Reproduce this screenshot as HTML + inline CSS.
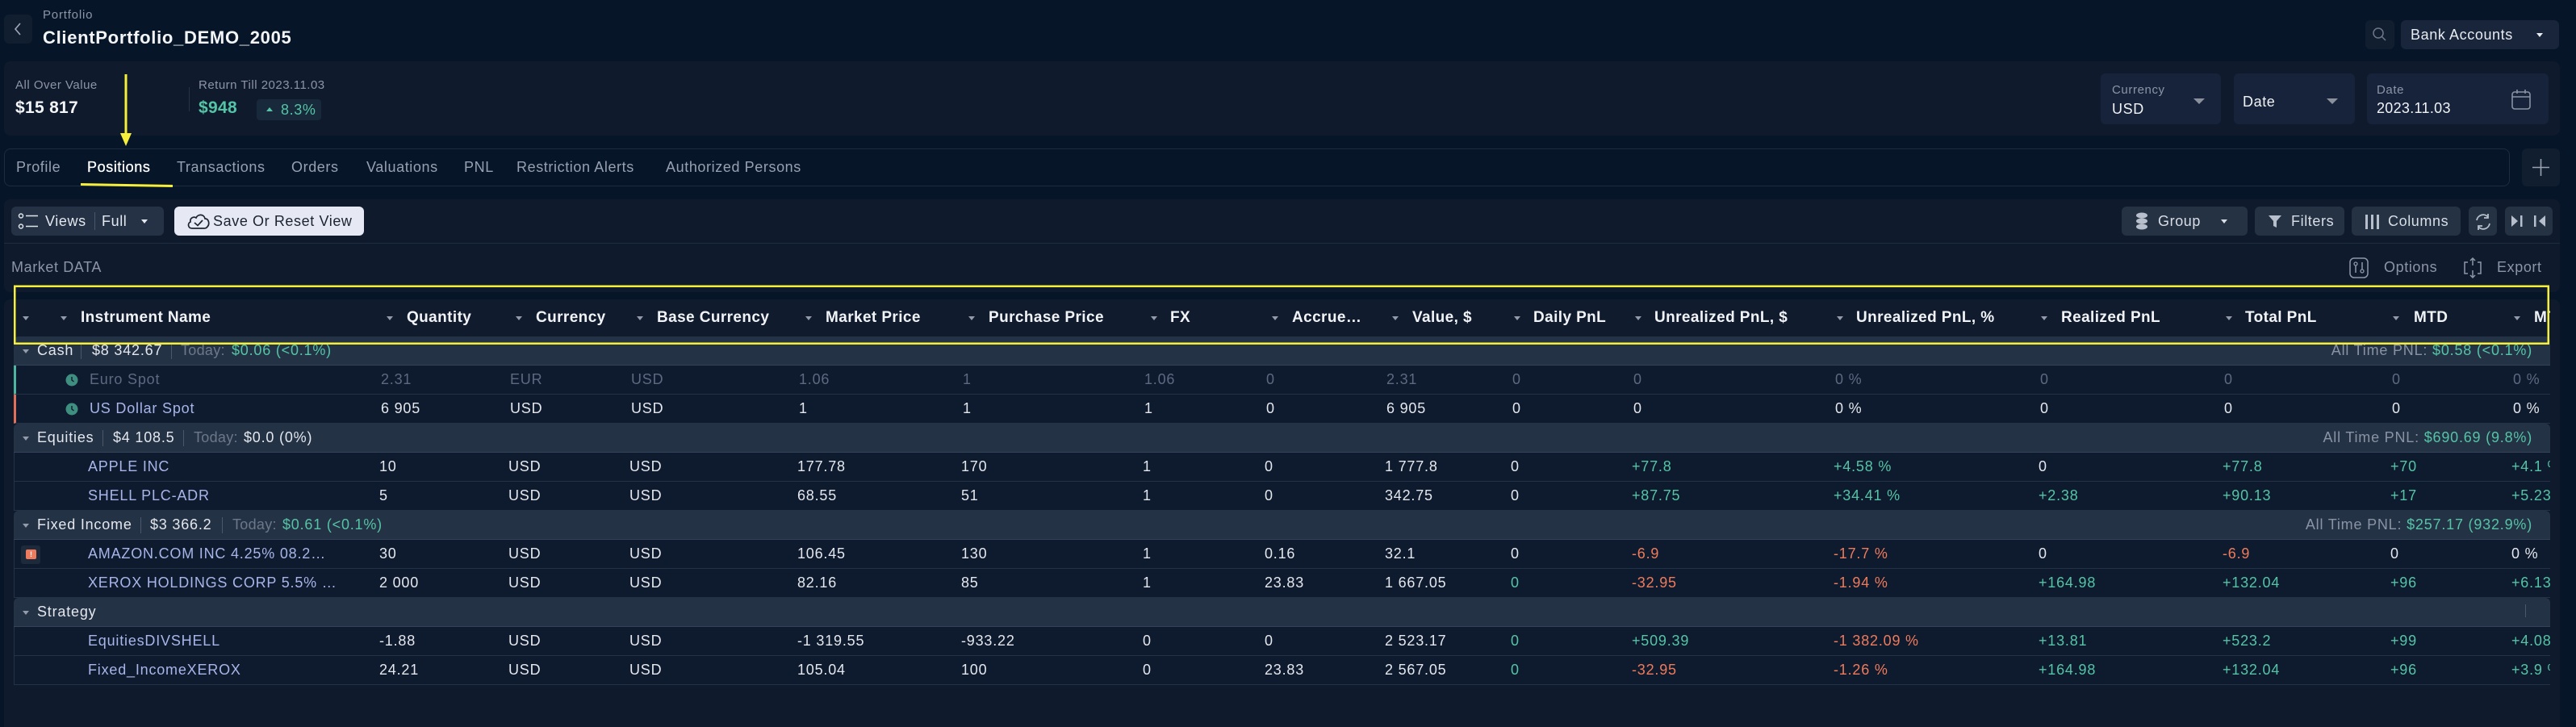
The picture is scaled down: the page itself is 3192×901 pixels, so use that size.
<!DOCTYPE html>
<html><head><meta charset="utf-8">
<style>
*{box-sizing:border-box}
body{margin:0;width:3192px;height:892px;background:#061528;position:relative;overflow:hidden;font-family:"Liberation Sans",sans-serif;letter-spacing:.6px;color:#e4e7ed}
.a{position:absolute;white-space:nowrap}
.p{position:absolute;background:#0f1b2d;border-radius:8px}
.btn{position:absolute;border-radius:6px;background:#243244}
.g{color:#8c95a7}
.gr{color:#55c4a6}
.rd{color:#ef7b5c}
.tri{position:absolute;width:0;height:0;border-left:4.5px solid transparent;border-right:4.5px solid transparent;border-top:5px solid #939bab}
.r{position:absolute;left:17px;width:3143px;height:36px;overflow:hidden}
.d{background:#0e1a2d;border-bottom:1px solid #233246;border-left:1px solid #233246}
.grp{background:#243245;border-bottom:1px solid #34435a;border-radius:6px 6px 0 0}
.in{position:absolute;left:-17px;top:0;width:3160px;height:36px}
.in span{position:absolute;top:0;line-height:35px;font-size:18px;letter-spacing:.8px;white-space:nowrap}
.nm{color:#a9b5e8}
.dim{color:#5d6981!important}
.sep{position:absolute;top:8px;width:1px;height:20px;background:#4b586c}
.hd{position:absolute;left:17px;top:371px;width:3143px;height:46px;overflow:hidden;background:#101c2e}
.hd span{position:absolute;top:0;line-height:46px;font-size:19px;font-weight:bold;letter-spacing:.4px;color:#f1f3f6;white-space:nowrap}
.hd .tri{top:21px}
.tab{position:absolute;top:195px;line-height:24px;font-size:18px;color:#97a0b2;white-space:nowrap}
.td{color:#6d778a;letter-spacing:.3px!important}
</style></head><body>

<!-- top header -->
<div class="btn" style="left:5px;top:18px;width:35px;height:36px;background:#111e30"></div>
<svg class="a" style="left:5px;top:18px" width="35" height="36"><polyline points="20,11 14,18 20,25" fill="none" stroke="#a0a8b8" stroke-width="1.6"/></svg>
<div class="a g" style="left:53px;top:10px;font-size:15px;line-height:18px;letter-spacing:.8px">Portfolio</div>
<div class="a" style="left:53px;top:34px;font-size:22px;line-height:26px;font-weight:bold;letter-spacing:.7px;color:#f3f5f8">ClientPortfolio_DEMO_2005</div>

<div class="btn" style="left:2931px;top:25px;width:36px;height:36px;background:#111e30"></div>
<svg class="a" style="left:2931px;top:25px" width="36" height="36"><circle cx="16" cy="16" r="6" fill="none" stroke="#6e7788" stroke-width="1.5"/><line x1="20.5" y1="20.5" x2="25" y2="25" stroke="#6e7788" stroke-width="1.5"/></svg>
<div class="btn" style="left:2975px;top:25px;width:196px;height:36px;background:#18253a"></div>
<div class="a" style="left:2987px;top:31px;font-size:18px;line-height:24px;color:#e8ebf0">Bank Accounts</div>
<div class="tri" style="left:3143px;top:41px;border-top-color:#e8ebf0"></div>

<!-- summary panel -->
<div class="p" style="left:5px;top:76px;width:3167px;height:92px"></div>
<div class="a g" style="left:19px;top:97px;font-size:15px;line-height:18px;letter-spacing:.5px">All Over Value</div>
<div class="a" style="left:19px;top:121px;font-size:21px;line-height:26px;font-weight:bold;letter-spacing:.3px;color:#f3f5f8">$15 817</div>
<div class="a" style="left:234px;top:108px;width:1px;height:30px;background:#243347"></div>
<div class="a g" style="left:246px;top:97px;font-size:15px;line-height:18px;letter-spacing:.5px">Return Till 2023.11.03</div>
<div class="a gr" style="left:246px;top:121px;font-size:21px;line-height:26px;font-weight:bold;letter-spacing:.3px">$948</div>
<div class="a" style="left:318px;top:123px;width:80px;height:26px;background:#17293a;border-radius:4px"></div>
<div class="a" style="left:330px;top:133px;width:0;height:0;border-left:4px solid transparent;border-right:4px solid transparent;border-bottom:5px solid #55c4a6"></div>
<div class="a gr" style="left:348px;top:124px;font-size:18px;line-height:24px">8.3%</div>

<div class="btn" style="left:2603px;top:91px;width:149px;height:63px;background:#16233a"></div>
<div class="a g" style="left:2617px;top:103px;font-size:15px;line-height:18px">Currency</div>
<div class="a" style="left:2617px;top:123px;font-size:18px;line-height:24px;color:#f0f2f5">USD</div>
<div class="a" style="left:2718px;top:122px;width:0;height:0;border-left:7px solid transparent;border-right:7px solid transparent;border-top:7px solid #8a919c"></div>
<div class="btn" style="left:2768px;top:91px;width:150px;height:63px;background:#16233a"></div>
<div class="a" style="left:2779px;top:114px;font-size:18px;line-height:24px;color:#f0f2f5">Date</div>
<div class="a" style="left:2883px;top:122px;width:0;height:0;border-left:7px solid transparent;border-right:7px solid transparent;border-top:7px solid #8a919c"></div>
<div class="btn" style="left:2933px;top:91px;width:225px;height:63px;background:#16233a"></div>
<div class="a g" style="left:2945px;top:103px;font-size:15px;line-height:18px">Date</div>
<div class="a" style="left:2945px;top:122px;font-size:18px;line-height:24px;color:#f0f2f5;letter-spacing:.3px">2023.11.03</div>
<svg class="a" style="left:3110px;top:109px" width="30" height="30"><rect x="3" y="5" width="22" height="21" rx="3" fill="none" stroke="#8a93a4" stroke-width="1.6"/><line x1="3" y1="11" x2="25" y2="11" stroke="#8a93a4" stroke-width="1.6"/><line x1="9" y1="2" x2="9" y2="7" stroke="#8a93a4" stroke-width="1.6"/><line x1="19" y1="2" x2="19" y2="7" stroke="#8a93a4" stroke-width="1.6"/></svg>

<!-- tabs -->
<div class="a" style="left:5px;top:184px;width:3105px;height:47px;border:1px solid #1d2c40;border-radius:8px"></div>
<div class="tab" style="left:20px">Profile</div>
<div class="tab" style="left:108px;color:#ffffff;-webkit-text-stroke:.3px #fff">Positions</div>
<div class="tab" style="left:219px">Transactions</div>
<div class="tab" style="left:361px">Orders</div>
<div class="tab" style="left:454px">Valuations</div>
<div class="tab" style="left:575px">PNL</div>
<div class="tab" style="left:640px">Restriction Alerts</div>
<div class="tab" style="left:825px">Authorized Persons</div>
<div class="btn" style="left:3125px;top:184px;width:47px;height:47px;background:#111e30"></div>
<svg class="a" style="left:3125px;top:184px" width="47" height="47"><line x1="13" y1="23.5" x2="34" y2="23.5" stroke="#9aa2b1" stroke-width="1.6"/><line x1="23.5" y1="13" x2="23.5" y2="34" stroke="#9aa2b1" stroke-width="1.6"/></svg>

<!-- toolbar panel -->
<div class="p" style="left:5px;top:247px;width:3167px;height:115px"></div>
<div class="a" style="left:5px;top:301px;width:3167px;height:1px;background:#1e2c3f"></div>
<div class="btn" style="left:14px;top:256px;width:189px;height:36px;background:#253245"></div>
<svg class="a" style="left:20px;top:262px" width="32" height="26"><circle cx="6" cy="5.5" r="2.5" fill="none" stroke="#dfe3ea" stroke-width="1.5"/><circle cx="6" cy="18.5" r="2.5" fill="none" stroke="#dfe3ea" stroke-width="1.5"/><line x1="12" y1="5.5" x2="27" y2="5.5" stroke="#dfe3ea" stroke-width="1.5"/><line x1="12" y1="18.5" x2="27" y2="18.5" stroke="#dfe3ea" stroke-width="1.5"/></svg>
<div class="a" style="left:56px;top:262px;font-size:18px;line-height:24px;color:#e3e7ee">Views</div>
<div class="a" style="left:117px;top:263px;width:1px;height:22px;background:#4a566a"></div>
<div class="a" style="left:126px;top:262px;font-size:18px;line-height:24px;color:#e3e7ee">Full</div>
<div class="tri" style="left:175px;top:272px;border-top-color:#e3e7ee"></div>
<div class="btn" style="left:216px;top:256px;width:235px;height:36px;background:#e6e9f4"></div>
<svg class="a" style="left:230px;top:260px" width="32" height="28"><path d="M8 23 C3 23 2 17 6 15 C5 10 10 8 13 10 C15 5 23 5 24 11 C29 11 30 18 27 21 C26 22.5 25 23 23 23 Z" fill="none" stroke="#1b2333" stroke-width="1.7"/><polyline points="11,16 15,19.5 21,13" fill="none" stroke="#1b2333" stroke-width="1.7"/></svg>
<div class="a" style="left:264px;top:262px;font-size:18px;line-height:24px;color:#1b2333">Save Or Reset View</div>

<div class="btn" style="left:2629px;top:256px;width:156px;height:36px"></div>
<svg class="a" style="left:2644px;top:262px" width="22" height="26"><ellipse cx="10" cy="5" rx="7" ry="3.5" fill="#b8bfcc"/><ellipse cx="10" cy="12" rx="7" ry="3.5" fill="#b8bfcc"/><ellipse cx="10" cy="19" rx="7" ry="3.5" fill="#b8bfcc"/></svg>
<div class="a" style="left:2674px;top:262px;font-size:18px;line-height:24px;color:#d9dde5">Group</div>
<div class="tri" style="left:2752px;top:272px;border-top-color:#d9dde5"></div>
<div class="btn" style="left:2794px;top:256px;width:111px;height:36px"></div>
<svg class="a" style="left:2810px;top:265px" width="20" height="20"><polygon points="1,2 17,2 11,9 11,17 7,15 7,9" fill="#b8bfcc"/></svg>
<div class="a" style="left:2839px;top:262px;font-size:18px;line-height:24px;color:#d9dde5">Filters</div>
<div class="btn" style="left:2914px;top:256px;width:135px;height:36px"></div>
<svg class="a" style="left:2929px;top:264px" width="22" height="22"><rect x="2" y="2" width="3" height="18" fill="#b8bfcc"/><rect x="9" y="2" width="3" height="18" fill="#b8bfcc"/><rect x="16" y="2" width="3" height="18" fill="#b8bfcc"/></svg>
<div class="a" style="left:2959px;top:262px;font-size:18px;line-height:24px;color:#d9dde5">Columns</div>
<div class="btn" style="left:3059px;top:256px;width:35px;height:36px"></div>
<svg class="a" style="left:3064px;top:262px" width="26" height="26"><path d="M5 11 A8 8 0 0 1 19 7" fill="none" stroke="#b8bfcc" stroke-width="1.8"/><polyline points="19,3 19,8 14,8" fill="none" stroke="#b8bfcc" stroke-width="1.8"/><path d="M21 15 A8 8 0 0 1 7 19" fill="none" stroke="#b8bfcc" stroke-width="1.8"/><polyline points="7,23 7,18 12,18" fill="none" stroke="#b8bfcc" stroke-width="1.8"/></svg>
<div class="btn" style="left:3104px;top:256px;width:59px;height:36px"></div>
<svg class="a" style="left:3104px;top:256px" width="59" height="36"><polygon points="8,11 16,18 8,25" fill="#b8bfcc"/><rect x="19" y="11" width="2.5" height="14" fill="#b8bfcc"/><rect x="36" y="11" width="2.5" height="14" fill="#b8bfcc"/><polygon points="50,11 42,18 50,25" fill="#b8bfcc"/></svg>

<div class="a g" style="left:14px;top:319px;font-size:18px;line-height:24px">Market DATA</div>
<svg class="a" style="left:2910px;top:318px" width="28" height="28"><rect x="2" y="2" width="22" height="24" rx="5" fill="none" stroke="#8e97a8" stroke-width="1.5"/><line x1="9" y1="7" x2="9" y2="20" stroke="#8e97a8" stroke-width="1.5"/><circle cx="9" cy="9" r="2" fill="#0f1b2d" stroke="#8e97a8" stroke-width="1.3"/><line x1="17" y1="7" x2="17" y2="20" stroke="#8e97a8" stroke-width="1.5"/><circle cx="17" cy="18" r="2" fill="#0f1b2d" stroke="#8e97a8" stroke-width="1.3"/></svg>
<div class="a g" style="left:2954px;top:319px;font-size:18px;line-height:24px">Options</div>
<svg class="a" style="left:3050px;top:318px" width="28" height="28"><polyline points="8,7 4,7 4,21 8,21" fill="none" stroke="#8e97a8" stroke-width="1.5"/><polyline points="20,7 24,7 24,21 20,21" fill="none" stroke="#8e97a8" stroke-width="1.5"/><line x1="14" y1="2" x2="14" y2="11" stroke="#8e97a8" stroke-width="1.5"/><polyline points="11,5 14,2 17,5" fill="none" stroke="#8e97a8" stroke-width="1.5"/><line x1="14" y1="17" x2="14" y2="26" stroke="#8e97a8" stroke-width="1.5"/><polyline points="11,23 14,26 17,23" fill="none" stroke="#8e97a8" stroke-width="1.5"/></svg>
<div class="a g" style="left:3094px;top:319px;font-size:18px;line-height:24px">Export</div>

<!-- table panel -->
<div class="p" style="left:5px;top:371px;width:3167px;height:530px;border-radius:8px 8px 0 0"></div>

<div class="hd"><div class="in" style="height:46px">
<i class="tri" style="left:27.5px"></i>
<i class="tri" style="left:74.5px"></i><span style="left:100px">Instrument Name</span>
<i class="tri" style="left:478.5px"></i><span style="left:504px">Quantity</span>
<i class="tri" style="left:638.5px"></i><span style="left:664px">Currency</span>
<i class="tri" style="left:788.5px"></i><span style="left:814px">Base Currency</span>
<i class="tri" style="left:997.5px"></i><span style="left:1023px">Market Price</span>
<i class="tri" style="left:1199.5px"></i><span style="left:1225px">Purchase Price</span>
<i class="tri" style="left:1425.5px"></i><span style="left:1450px">FX</span>
<i class="tri" style="left:1575.5px"></i><span style="left:1601px">Accrue…</span>
<i class="tri" style="left:1724.5px"></i><span style="left:1750px">Value, $</span>
<i class="tri" style="left:1875.5px"></i><span style="left:1900px">Daily PnL</span>
<i class="tri" style="left:2025.5px"></i><span style="left:2050px">Unrealized PnL, $</span>
<i class="tri" style="left:2275.5px"></i><span style="left:2300px">Unrealized PnL, %</span>
<i class="tri" style="left:2528.5px"></i><span style="left:2554px">Realized PnL</span>
<i class="tri" style="left:2757.5px"></i><span style="left:2782px">Total PnL</span>
<i class="tri" style="left:2964.5px"></i><span style="left:2991px">MTD</span>
<i class="tri" style="left:3114.5px"></i><span style="left:3140px">MTD, %</span>
</div></div>

<!-- Cash group -->
<div class="r grp" style="top:417px"><div class="in">
<i class="tri" style="left:27.5px;top:16px"></i>
<span style="left:46px">Cash</span><i class="sep" style="left:100px"></i>
<span style="left:114px">$8 342.67</span><i class="sep" style="left:212px"></i>
<span class="td" style="left:224px">Today:</span><span class="gr" style="left:287px">$0.06 (&lt;0.1%)</span>
<span style="right:22px;color:#8a93a5">All Time PNL: <b class="gr" style="font-weight:normal">$0.58 (&lt;0.1%)</b></span>
</div></div>

<!-- Euro Spot -->
<div class="r d" style="top:453px;border-left:3px solid #4db5a0"><div class="in">
<svg style="position:absolute;left:78px;top:10px" width="16" height="16"><circle cx="8" cy="8" r="7.5" fill="#3e8f7f"/><polyline points="8,4 8,8 10.5,10" fill="none" stroke="#0e1a2d" stroke-width="1.4"/></svg>
<span class="dim" style="left:108px">Euro Spot</span>
<span class="dim" style="left:469px">2.31</span><span class="dim" style="left:629px">EUR</span><span class="dim" style="left:779px">USD</span><span class="dim" style="left:987px">1.06</span><span class="dim" style="left:1190px">1</span><span class="dim" style="left:1415px">1.06</span><span class="dim" style="left:1566px">0</span><span class="dim" style="left:1715px">2.31</span><span class="dim" style="left:1871px">0</span><span class="dim" style="left:2021px">0</span><span class="dim" style="left:2271px">0 %</span><span class="dim" style="left:2525px">0</span><span class="dim" style="left:2753px">0</span><span class="dim" style="left:2961px">0</span><span class="dim" style="left:3111px">0 %</span>
</div></div>

<!-- US Dollar Spot -->
<div class="r d" style="top:489px;border-left:3px solid #e0705a"><div class="in">
<svg style="position:absolute;left:78px;top:10px" width="16" height="16"><circle cx="8" cy="8" r="7.5" fill="#3e8f7f"/><polyline points="8,4 8,8 10.5,10" fill="none" stroke="#0e1a2d" stroke-width="1.4"/></svg>
<span class="nm" style="left:108px">US Dollar Spot</span>
<span style="left:469px">6 905</span><span style="left:629px">USD</span><span style="left:779px">USD</span><span style="left:987px">1</span><span style="left:1190px">1</span><span style="left:1415px">1</span><span style="left:1566px">0</span><span style="left:1715px">6 905</span><span style="left:1871px">0</span><span style="left:2021px">0</span><span style="left:2271px">0 %</span><span style="left:2525px">0</span><span style="left:2753px">0</span><span style="left:2961px">0</span><span style="left:3111px">0 %</span>
</div></div>

<!-- Equities group -->
<div class="r grp" style="top:525px"><div class="in">
<i class="tri" style="left:27.5px;top:16px"></i>
<span style="left:46px">Equities</span><i class="sep" style="left:127px"></i>
<span style="left:140px">$4 108.5</span><i class="sep" style="left:227px"></i>
<span class="td" style="left:240px">Today:</span><span style="left:302px">$0.0 (0%)</span>
<span style="right:22px;color:#8a93a5">All Time PNL: <b class="gr" style="font-weight:normal">$690.69 (9.8%)</b></span>
</div></div>

<!-- APPLE -->
<div class="r d" style="top:561px"><div class="in">
<span class="nm" style="left:108px">APPLE INC</span>
<span style="left:469px">10</span><span style="left:629px">USD</span><span style="left:779px">USD</span><span style="left:987px">177.78</span><span style="left:1190px">170</span><span style="left:1415px">1</span><span style="left:1566px">0</span><span style="left:1715px">1 777.8</span><span style="left:1871px">0</span><span class="gr" style="left:2021px">+77.8</span><span class="gr" style="left:2271px">+4.58 %</span><span style="left:2525px">0</span><span class="gr" style="left:2753px">+77.8</span><span class="gr" style="left:2961px">+70</span><span class="gr" style="left:3111px">+4.1 %</span>
</div></div>

<!-- SHELL -->
<div class="r d" style="top:597px"><div class="in">
<span class="nm" style="left:108px">SHELL PLC-ADR</span>
<span style="left:469px">5</span><span style="left:629px">USD</span><span style="left:779px">USD</span><span style="left:987px">68.55</span><span style="left:1190px">51</span><span style="left:1415px">1</span><span style="left:1566px">0</span><span style="left:1715px">342.75</span><span style="left:1871px">0</span><span class="gr" style="left:2021px">+87.75</span><span class="gr" style="left:2271px">+34.41 %</span><span class="gr" style="left:2525px">+2.38</span><span class="gr" style="left:2753px">+90.13</span><span class="gr" style="left:2961px">+17</span><span class="gr" style="left:3111px">+5.23 %</span>
</div></div>

<!-- Fixed Income group -->
<div class="r grp" style="top:633px"><div class="in">
<i class="tri" style="left:27.5px;top:16px"></i>
<span style="left:46px">Fixed Income</span><i class="sep" style="left:174px"></i>
<span style="left:186px">$3 366.2</span><i class="sep" style="left:275px"></i>
<span class="td" style="left:288px">Today:</span><span class="gr" style="left:350px">$0.61 (&lt;0.1%)</span>
<span style="right:22px;color:#8a93a5">All Time PNL: <b class="gr" style="font-weight:normal">$257.17 (932.9%)</b></span>
</div></div>

<!-- AMAZON -->
<div class="r d" style="top:669px"><div class="in">
<div style="position:absolute;left:25px;top:7px;width:24px;height:23px;background:#1d2a3c;border-radius:3px"></div>
<div style="position:absolute;left:31px;top:12px;width:13px;height:12px;background:#ee7b5e;border-radius:2px;color:#fff;font-size:9px;line-height:12px;text-align:center;font-weight:bold;letter-spacing:0">!</div>
<span class="nm" style="left:108px">AMAZON.COM INC 4.25% 08.2…</span>
<span style="left:469px">30</span><span style="left:629px">USD</span><span style="left:779px">USD</span><span style="left:987px">106.45</span><span style="left:1190px">130</span><span style="left:1415px">1</span><span style="left:1566px">0.16</span><span style="left:1715px">32.1</span><span style="left:1871px">0</span><span class="rd" style="left:2021px">-6.9</span><span class="rd" style="left:2271px">-17.7 %</span><span style="left:2525px">0</span><span class="rd" style="left:2753px">-6.9</span><span style="left:2961px">0</span><span style="left:3111px">0 %</span>
</div></div>

<!-- XEROX -->
<div class="r d" style="top:705px"><div class="in">
<span class="nm" style="left:108px">XEROX HOLDINGS CORP 5.5% …</span>
<span style="left:469px">2 000</span><span style="left:629px">USD</span><span style="left:779px">USD</span><span style="left:987px">82.16</span><span style="left:1190px">85</span><span style="left:1415px">1</span><span style="left:1566px">23.83</span><span style="left:1715px">1 667.05</span><span class="gr" style="left:1871px">0</span><span class="rd" style="left:2021px">-32.95</span><span class="rd" style="left:2271px">-1.94 %</span><span class="gr" style="left:2525px">+164.98</span><span class="gr" style="left:2753px">+132.04</span><span class="gr" style="left:2961px">+96</span><span class="gr" style="left:3111px">+6.13 %</span>
</div></div>

<!-- Strategy group -->
<div class="r grp" style="top:741px"><div class="in">
<i class="tri" style="left:27.5px;top:16px"></i>
<span style="left:46px">Strategy</span>
<i class="sep" style="left:3129px;top:8px;height:16px"></i>
</div></div>

<!-- EquitiesDIVSHELL -->
<div class="r d" style="top:777px"><div class="in">
<span class="nm" style="left:108px">EquitiesDIVSHELL</span>
<span style="left:469px">-1.88</span><span style="left:629px">USD</span><span style="left:779px">USD</span><span style="left:987px">-1 319.55</span><span style="left:1190px">-933.22</span><span style="left:1415px">0</span><span style="left:1566px">0</span><span style="left:1715px">2 523.17</span><span class="gr" style="left:1871px">0</span><span class="gr" style="left:2021px">+509.39</span><span class="rd" style="left:2271px">-1 382.09 %</span><span class="gr" style="left:2525px">+13.81</span><span class="gr" style="left:2753px">+523.2</span><span class="gr" style="left:2961px">+99</span><span class="gr" style="left:3111px">+4.08 %</span>
</div></div>

<!-- Fixed_IncomeXEROX -->
<div class="r d" style="top:813px"><div class="in">
<span class="nm" style="left:108px">Fixed_IncomeXEROX</span>
<span style="left:469px">24.21</span><span style="left:629px">USD</span><span style="left:779px">USD</span><span style="left:987px">105.04</span><span style="left:1190px">100</span><span style="left:1415px">0</span><span style="left:1566px">23.83</span><span style="left:1715px">2 567.05</span><span class="gr" style="left:1871px">0</span><span class="rd" style="left:2021px">-32.95</span><span class="rd" style="left:2271px">-1.26 %</span><span class="gr" style="left:2525px">+164.98</span><span class="gr" style="left:2753px">+132.04</span><span class="gr" style="left:2961px">+96</span><span class="gr" style="left:3111px">+3.9 %</span>
</div></div>

<!-- yellow annotations -->
<svg class="a" style="left:0;top:0;pointer-events:none" width="3192" height="892">
<line x1="156" y1="92" x2="156" y2="168" stroke="#f5ef3b" stroke-width="3"/>
<polygon points="149,165 163,165 156,181" fill="#f5ef3b"/>
<line x1="100" y1="228.5" x2="214" y2="230.5" stroke="#f5ef3b" stroke-width="3"/>
<rect x="18.25" y="354.75" width="3139.5" height="71" fill="none" stroke="#f5ef3b" stroke-width="2.5"/>
</svg>
</body></html>
